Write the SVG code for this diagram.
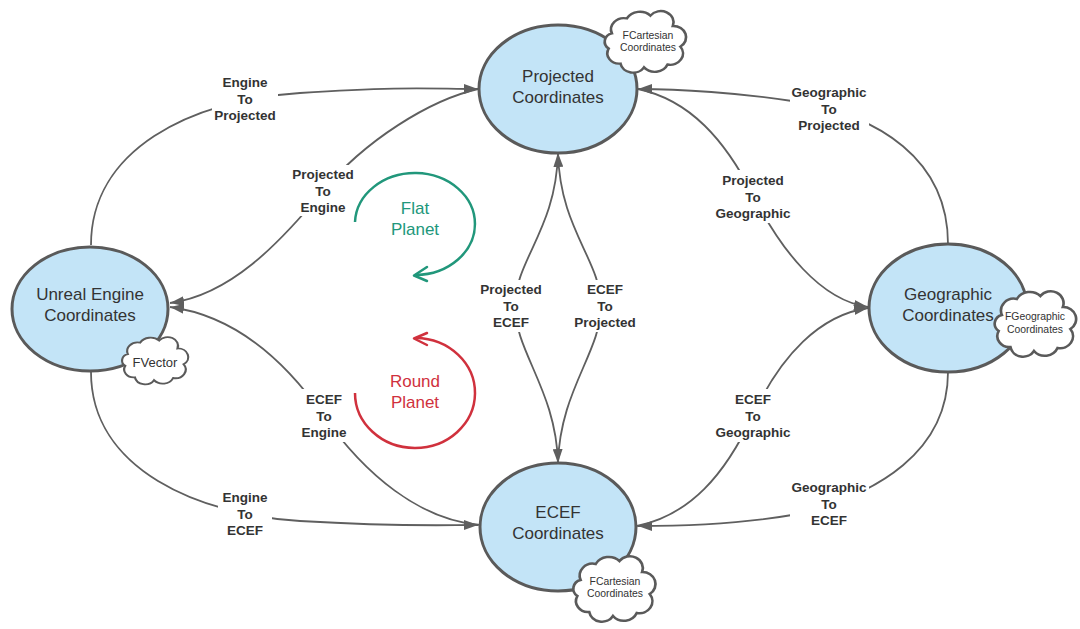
<svg xmlns="http://www.w3.org/2000/svg" width="1080" height="629" viewBox="0 0 1080 629">
<style>
.node{fill:#c3e4f7;stroke:#5a5a5a;stroke-width:3}
.cloud{fill:#fff;stroke:#5a5a5a;stroke-width:2.5}
.nt{font-family:"Liberation Sans",Arial,sans-serif;font-size:17px;fill:#333;text-anchor:middle}
.ct{font-family:"Liberation Sans",Arial,sans-serif;font-size:10.4px;fill:#333;text-anchor:middle}
.conn{fill:none;stroke:#5f5f5f;stroke-width:1.8}
.lbl{font-family:"Liberation Sans",Arial,sans-serif;font-size:13.5px;font-weight:bold;fill:#333;text-anchor:middle}
.bg{fill:#fff}
.pt{font-family:"Liberation Sans",Arial,sans-serif;font-size:17px;text-anchor:middle}
</style>
<defs>
<marker id="ah" viewBox="0 0 14 10" refX="14" refY="5" markerWidth="14" markerHeight="10" markerUnits="userSpaceOnUse" orient="auto">
<path d="M0,0 L14,5 L0,10 Z" fill="#5f5f5f"/>
</marker>
<path id="cloudShape" d="M-30,-8 A12,12 0 0 1 -16,-24 A14,14 0 0 1 6,-27 A12,12 0 0 1 27,-16 A12,12 0 0 1 34,6 A12,12 0 0 1 22,25 A13,13 0 0 1 0,28 A12,12 0 0 1 -22,24 A11,11 0 0 1 -33,8 A9,9 0 0 1 -30,-8 Z"/>
</defs>
<rect width="1080" height="629" fill="#fff"/>

<g id="connectors">
<path class="conn" d="M91,245 C91,150 190,100 300,93 S430,89 478,89" marker-end="url(#ah)"/>
<path class="conn" d="M478,89 C430,100 365,140 322,192 S230,295 170,303" marker-end="url(#ah)"/>
<path class="conn" d="M480,525 C420,520 365,475 323,415 S230,315 170,307" marker-end="url(#ah)"/>
<path class="conn" d="M91,372 C91,470 200,515 300,521 S440,525 478,525" marker-end="url(#ah)"/>
<path class="conn" d="M558,153 C556,230 515,260 515,306 C515,352 556,390 558,463" marker-end="url(#ah)"/>
<path class="conn" d="M558,463 C560,390 601,352 601,306 C601,260 560,230 558,153" marker-end="url(#ah)"/>
<path class="conn" d="M948,244 C948,160 880,115 792,101 C740,93 680,89 638,89" marker-end="url(#ah)"/>
<path class="conn" d="M638,89 C690,100 725,140 753,195 S820,300 868,307" marker-end="url(#ah)"/>
<path class="conn" d="M637,526 C690,515 725,475 753,415 S820,315 868,308" marker-end="url(#ah)"/>
<path class="conn" d="M948,372 C948,450 880,495 792,515 C740,524 680,526 638,526" marker-end="url(#ah)"/>

<g id="lbl-engine-to-projected">
<rect class="bg" x="212" y="73" width="66" height="50"/>
<text class="lbl" x="245" y="87"><tspan x="245">Engine</tspan><tspan x="245" dy="16.5">To</tspan><tspan x="245" dy="16.5">Projected</tspan></text>
</g>
<g id="lbl-projected-to-engine">
<rect class="bg" x="290" y="165" width="66" height="51"/>
<text class="lbl" x="323" y="179"><tspan x="323">Projected</tspan><tspan x="323" dy="16.5">To</tspan><tspan x="323" dy="16.5">Engine</tspan></text>
</g>
<g id="lbl-ecef-to-engine">
<rect class="bg" x="298" y="389" width="52" height="53"/>
<text class="lbl" x="324" y="404"><tspan x="324">ECEF</tspan><tspan x="324" dy="16.5">To</tspan><tspan x="324" dy="16.5">Engine</tspan></text>
</g>
<g id="lbl-engine-to-ecef">
<rect class="bg" x="218" y="487" width="54" height="52"/>
<text class="lbl" x="245" y="502"><tspan x="245">Engine</tspan><tspan x="245" dy="16.5">To</tspan><tspan x="245" dy="16.5">ECEF</tspan></text>
</g>
<g id="lbl-projected-to-ecef">
<rect class="bg" x="478" y="280" width="66" height="52"/>
<text class="lbl" x="511" y="294"><tspan x="511">Projected</tspan><tspan x="511" dy="16.5">To</tspan><tspan x="511" dy="16.5">ECEF</tspan></text>
</g>
<g id="lbl-ecef-to-projected">
<rect class="bg" x="572" y="280" width="66" height="52"/>
<text class="lbl" x="605" y="294"><tspan x="605">ECEF</tspan><tspan x="605" dy="16.5">To</tspan><tspan x="605" dy="16.5">Projected</tspan></text>
</g>
<g id="lbl-geographic-to-projected">
<rect class="bg" x="790" y="82" width="79" height="51"/>
<text class="lbl" x="829" y="97"><tspan x="829">Geographic</tspan><tspan x="829" dy="16.5">To</tspan><tspan x="829" dy="16.5">Projected</tspan></text>
</g>
<g id="lbl-projected-to-geographic">
<rect class="bg" x="714" y="170" width="79" height="53"/>
<text class="lbl" x="753" y="185"><tspan x="753">Projected</tspan><tspan x="753" dy="16.5">To</tspan><tspan x="753" dy="16.5">Geographic</tspan></text>
</g>
<g id="lbl-ecef-to-geographic">
<rect class="bg" x="714" y="389" width="79" height="53"/>
<text class="lbl" x="753" y="404"><tspan x="753">ECEF</tspan><tspan x="753" dy="16.5">To</tspan><tspan x="753" dy="16.5">Geographic</tspan></text>
</g>
<g id="lbl-geographic-to-ecef">
<rect class="bg" x="790" y="477" width="79" height="52"/>
<text class="lbl" x="829" y="492"><tspan x="829">Geographic</tspan><tspan x="829" dy="16.5">To</tspan><tspan x="829" dy="16.5">ECEF</tspan></text>
</g>
</g>

<g id="flat-planet">
<path d="M355,222 A60,51 0 1 1 416,275" fill="none" stroke="#21977b" stroke-width="2.5"/>
<polyline points="427,267 414,275.5 427,281" fill="none" stroke="#21977b" stroke-width="2.5" stroke-linecap="round" stroke-linejoin="round"/>
<text class="pt" fill="#21977b" x="415" y="214"><tspan x="415">Flat</tspan><tspan x="415" dy="21">Planet</tspan></text>
</g>
<g id="round-planet">
<path d="M355,393 A60,55 0 1 0 416,338" fill="none" stroke="#d0313d" stroke-width="2.5"/>
<polyline points="427,333 414,338.5 427,345" fill="none" stroke="#d0313d" stroke-width="2.5" stroke-linecap="round" stroke-linejoin="round"/>
<text class="pt" fill="#d0313d" x="415" y="387"><tspan x="415">Round</tspan><tspan x="415" dy="21">Planet</tspan></text>
</g>

<g id="node-projected">
<ellipse class="node" cx="558" cy="89" rx="79" ry="64"/>
<text class="nt" x="558" y="82"><tspan x="558">Projected</tspan><tspan x="558" dy="20.5">Coordinates</tspan></text>
<use href="#cloudShape" class="cloud" vector-effect="non-scaling-stroke" transform="translate(644,41) scale(1.07,0.94)"/>
<text class="ct" x="648" y="38.5"><tspan x="648">FCartesian</tspan><tspan x="648" dy="12.5">Coordinates</tspan></text>
</g>
<g id="node-unreal">
<ellipse class="node" cx="90" cy="309" rx="78" ry="62"/>
<text class="nt" x="90" y="300"><tspan x="90">Unreal Engine</tspan><tspan x="90" dy="20.5">Coordinates</tspan></text>
<use href="#cloudShape" class="cloud" vector-effect="non-scaling-stroke" transform="translate(154,360) scale(0.87,0.72)"/>
<text class="ct" style="font-size:13px" x="155" y="366.5">FVector</text>
</g>
<g id="node-geographic">
<ellipse class="node" cx="948" cy="308" rx="79" ry="64"/>
<text class="nt" x="948" y="300"><tspan x="948">Geographic</tspan><tspan x="948" dy="20.5">Coordinates</tspan></text>
<use href="#cloudShape" class="cloud" vector-effect="non-scaling-stroke" transform="translate(1034,323) scale(1.07,1.0)"/>
<text class="ct" x="1035" y="320"><tspan x="1035">FGeographic</tspan><tspan x="1035" dy="12.5">Coordinates</tspan></text>
</g>
<g id="node-ecef">
<ellipse class="node" cx="558" cy="527" rx="78" ry="64"/>
<text class="nt" x="558" y="518"><tspan x="558">ECEF</tspan><tspan x="558" dy="20.5">Coordinates</tspan></text>
<use href="#cloudShape" class="cloud" vector-effect="non-scaling-stroke" transform="translate(613,588) scale(1.08,1.0)"/>
<text class="ct" x="615" y="584.5"><tspan x="615">FCartesian</tspan><tspan x="615" dy="12.5">Coordinates</tspan></text>
</g>
</svg>
